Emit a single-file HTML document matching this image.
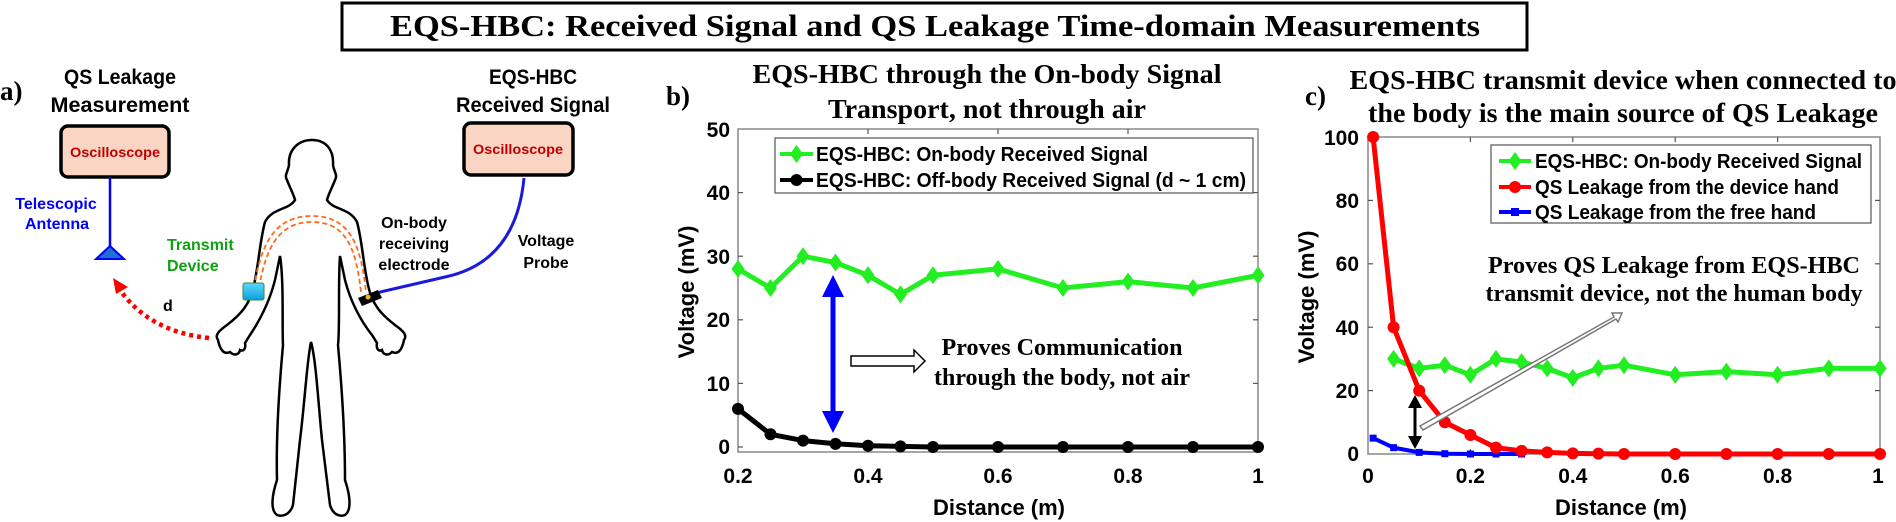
<!DOCTYPE html>
<html><head><meta charset="utf-8"><style>
html,body{margin:0;padding:0;background:#fff;}
svg{display:block;}
.ser{font-family:"Liberation Serif",serif;font-weight:bold;}
.san{font-family:"Liberation Sans",sans-serif;font-weight:bold;}
</style></head><body>
<svg id="s" width="1896" height="522" viewBox="0 0 1896 522" xmlns="http://www.w3.org/2000/svg">
<defs>
<linearGradient id="dev" x1="0" y1="0" x2="0" y2="1"><stop offset="0" stop-color="#5fd8ff"/><stop offset="1" stop-color="#0a9fd8"/></linearGradient>
</defs>
<rect x="342" y="3" width="1185" height="47" fill="#fff" stroke="#000" stroke-width="3"/>
<text class="ser" x="935" y="36" font-size="31" text-anchor="middle" textLength="1090" lengthAdjust="spacingAndGlyphs">EQS-HBC: Received Signal and QS Leakage Time-domain Measurements</text>

<text class="ser" x="0" y="100" font-size="27">a)</text>
<text class="san" x="120" y="84" font-size="21" text-anchor="middle" textLength="112" lengthAdjust="spacingAndGlyphs">QS Leakage</text>
<text class="san" x="120" y="112" font-size="21" text-anchor="middle" textLength="139" lengthAdjust="spacingAndGlyphs">Measurement</text>
<text class="san" x="533" y="84" font-size="21" text-anchor="middle" textLength="88" lengthAdjust="spacingAndGlyphs">EQS-HBC</text>
<text class="san" x="533" y="112" font-size="21" text-anchor="middle" textLength="154" lengthAdjust="spacingAndGlyphs">Received Signal</text>
<rect x="61" y="126" width="108" height="51" rx="7" fill="#fbd5c3" stroke="#000" stroke-width="3.5"/>
<text class="san" x="115" y="157" font-size="14" fill="#c00000" text-anchor="middle" textLength="90" lengthAdjust="spacingAndGlyphs">Oscilloscope</text>
<rect x="464" y="123" width="109" height="52" rx="7" fill="#fbd5c3" stroke="#000" stroke-width="3.5"/>
<text class="san" x="518" y="154" font-size="14" fill="#c00000" text-anchor="middle" textLength="90" lengthAdjust="spacingAndGlyphs">Oscilloscope</text>
<line x1="110" y1="177" x2="110" y2="247" stroke="#0000ff" stroke-width="2.5"/>
<polygon points="96,259 124,259 110,246" fill="#1f6fd0" stroke="#0000ff" stroke-width="2"/>
<text class="san" x="56" y="209" font-size="16" fill="#0000ff" text-anchor="middle">Telescopic</text>
<text class="san" x="57" y="229" font-size="16" fill="#0000ff" text-anchor="middle">Antenna</text>
<text class="san" x="167" y="250" font-size="16" fill="#10a010">Transmit</text>
<text class="san" x="167" y="271" font-size="16" fill="#10a010">Device</text>
<text class="san" x="163" y="311" font-size="16">d</text>
<path d="M209 338 Q150 332 120 290" fill="none" stroke="#ff0000" stroke-width="4.5" stroke-dasharray="4,4"/>
<polygon points="113,278 128,287 116,294" fill="#ff0000"/>
<path d="M312 140 C326 140 334 150 333 165 C334 172 338 175 335 180 C332 188 328 195 327 200 C333 210 350 208 357 222 C362 240 363 262 368 285 C372 305 382 315 395 325 C402 330 408 335 404 340 C402 350 398 355 392 352 C388 356 383 355 382 350 C378 352 376 348 377 343 L372 335 C360 320 350 300 345 280 L340 256 C338 280 340 330 338 345 C343 400 345 440 345 480 C350 495 352 510 345 515 C340 517 333 515 330 505 L322 440 C318 400 316 360 311 342 C307 360 305 400 300 440 L293 505 C290 515 282 517 277 515 C270 510 272 495 277 480 C276 440 278 400 283 345 C282 330 284 280 280 256 L275 280 C270 300 260 320 250 335 L245 343 C246 348 244 352 240 350 C239 355 234 356 230 352 C224 355 220 350 218 340 C214 335 220 330 227 325 C240 315 250 305 254 285 C259 262 260 240 265 222 C272 208 289 210 295 200 C294 195 290 188 287 180 C284 175 288 172 289 165 C288 150 298 140 312 140 Z" fill="#fff" stroke="#000" stroke-width="2.5"/>
<path d="M254 288 C261 243 275 216 312 216 C350 216 361 245 366 292" fill="none" stroke="#ff6a1a" stroke-width="1.8" stroke-dasharray="5,3"/>
<path d="M259 288 C266 247 279 222 312 222 C346 222 356 248 361 292" fill="none" stroke="#ff6a1a" stroke-width="1.8" stroke-dasharray="5,3"/>
<rect x="243" y="283" width="21" height="17" rx="2" fill="url(#dev)" stroke="#3a8a3a" stroke-width="1"/>
<path d="M524 178 Q516 262 445 277 L376 293" fill="none" stroke="#1a1ad8" stroke-width="3"/>
<polygon points="358,298 378,290 382,298 362,306" fill="#000"/>
<circle cx="368" cy="297" r="2.5" fill="#f0c000"/>
<text class="san" x="414" y="228" font-size="16" text-anchor="middle">On-body</text>
<text class="san" x="414" y="249" font-size="16" text-anchor="middle">receiving</text>
<text class="san" x="414" y="270" font-size="16" text-anchor="middle">electrode</text>
<text class="san" x="546" y="246" font-size="16" text-anchor="middle">Voltage</text>
<text class="san" x="546" y="268" font-size="16" text-anchor="middle">Probe</text>

<text class="ser" x="666" y="105" font-size="27">b)</text>
<text class="ser" x="987" y="83" font-size="27" text-anchor="middle" textLength="469" lengthAdjust="spacingAndGlyphs">EQS-HBC through the On-body Signal</text>
<text class="ser" x="987" y="118" font-size="27" text-anchor="middle" textLength="318" lengthAdjust="spacingAndGlyphs">Transport, not through air</text>
<rect x="738" y="129" width="520" height="323" fill="none" stroke="#888" stroke-width="1.5"/>
<g stroke="#555" stroke-width="1.2">
<line x1="868" y1="452" x2="868" y2="447"/><line x1="998" y1="452" x2="998" y2="447"/><line x1="1128" y1="452" x2="1128" y2="447"/>
<line x1="868" y1="129" x2="868" y2="134"/><line x1="998" y1="129" x2="998" y2="134"/><line x1="1128" y1="129" x2="1128" y2="134"/>
<line x1="738" y1="383.4" x2="743" y2="383.4"/><line x1="738" y1="319.8" x2="743" y2="319.8"/><line x1="738" y1="256.2" x2="743" y2="256.2"/><line x1="738" y1="192.6" x2="743" y2="192.6"/><line x1="738" y1="447" x2="743" y2="447"/>
<line x1="1258" y1="383.4" x2="1253" y2="383.4"/><line x1="1258" y1="319.8" x2="1253" y2="319.8"/><line x1="1258" y1="256.2" x2="1253" y2="256.2"/><line x1="1258" y1="192.6" x2="1253" y2="192.6"/>
</g>
<g class="san" font-size="21" text-anchor="end">
<text x="730" y="454">0</text><text x="730" y="391">10</text><text x="730" y="327">20</text><text x="730" y="264">30</text><text x="730" y="200">40</text><text x="730" y="137">50</text>
</g>
<g class="san" font-size="21" text-anchor="middle">
<text x="738" y="483">0.2</text><text x="868" y="483">0.4</text><text x="998" y="483">0.6</text><text x="1128" y="483">0.8</text><text x="1258" y="483">1</text>
</g>
<text class="san" x="999" y="515" font-size="22" text-anchor="middle">Distance (m)</text>
<text class="san" transform="translate(694,292) rotate(-90)" font-size="22" text-anchor="middle">Voltage (mV)</text>
<g id="bplot"></g>
<rect x="775" y="138" width="478" height="55" fill="#fff" stroke="#555" stroke-width="1.2"/>
<line x1="780" y1="154" x2="813" y2="154" stroke="#22ee22" stroke-width="4"/>
<polygon points="796.5,145 803,154 796.5,163 790,154" fill="#22ee22"/>
<line x1="780" y1="180" x2="813" y2="180" stroke="#000" stroke-width="4"/>
<circle cx="796.5" cy="180" r="6" fill="#000"/>
<text class="san" x="816" y="161" font-size="20" textLength="332" lengthAdjust="spacingAndGlyphs">EQS-HBC: On-body Received Signal</text>
<text class="san" x="816" y="187" font-size="20" textLength="430" lengthAdjust="spacingAndGlyphs">EQS-HBC: Off-body Received Signal (d ~ 1 cm)</text>
<line x1="833" y1="290" x2="833" y2="418" stroke="#0000ff" stroke-width="5"/>
<polygon points="833,275 822,297 844,297" fill="#0000ff"/>
<polygon points="833,433 822,411 844,411" fill="#0000ff"/>
<polygon points="851,356 914,356 914,350 925,361 914,372 914,366 851,366" fill="#fff" stroke="#000" stroke-width="1.5"/>
<text class="ser" x="1062" y="355" font-size="24" text-anchor="middle" textLength="241" lengthAdjust="spacingAndGlyphs">Proves Communication</text>
<text class="ser" x="1062" y="385" font-size="24" text-anchor="middle" textLength="256" lengthAdjust="spacingAndGlyphs">through the body, not air</text>

<text class="ser" x="1305" y="105" font-size="27">c)</text>
<text class="ser" x="1623" y="89" font-size="27" text-anchor="middle" textLength="547" lengthAdjust="spacingAndGlyphs">EQS-HBC transmit device when connected to</text>
<text class="ser" x="1623" y="122" font-size="27" text-anchor="middle" textLength="510" lengthAdjust="spacingAndGlyphs">the body is the main source of QS Leakage</text>
<rect x="1368" y="137" width="512" height="317" fill="none" stroke="#888" stroke-width="1.5"/>
<g stroke="#555" stroke-width="1.2">
<line x1="1470.4" y1="454" x2="1470.4" y2="449"/><line x1="1572.8" y1="454" x2="1572.8" y2="449"/><line x1="1675.2" y1="454" x2="1675.2" y2="449"/><line x1="1777.6" y1="454" x2="1777.6" y2="449"/>
<line x1="1470.4" y1="137" x2="1470.4" y2="142"/><line x1="1572.8" y1="137" x2="1572.8" y2="142"/><line x1="1675.2" y1="137" x2="1675.2" y2="142"/><line x1="1777.6" y1="137" x2="1777.6" y2="142"/>
<line x1="1368" y1="390.6" x2="1373" y2="390.6"/><line x1="1368" y1="327.2" x2="1373" y2="327.2"/><line x1="1368" y1="263.8" x2="1373" y2="263.8"/><line x1="1368" y1="200.4" x2="1373" y2="200.4"/>
<line x1="1880" y1="390.6" x2="1875" y2="390.6"/><line x1="1880" y1="327.2" x2="1875" y2="327.2"/><line x1="1880" y1="263.8" x2="1875" y2="263.8"/><line x1="1880" y1="200.4" x2="1875" y2="200.4"/>
</g>
<g class="san" font-size="21" text-anchor="end">
<text x="1359" y="461">0</text><text x="1359" y="398">20</text><text x="1359" y="335">40</text><text x="1359" y="271">60</text><text x="1359" y="208">80</text><text x="1359" y="145">100</text>
</g>
<g class="san" font-size="21" text-anchor="middle">
<text x="1368" y="483">0</text><text x="1470.4" y="483">0.2</text><text x="1572.8" y="483">0.4</text><text x="1675.2" y="483">0.6</text><text x="1777.6" y="483">0.8</text><text x="1878" y="483">1</text>
</g>
<text class="san" x="1621" y="515" font-size="22" text-anchor="middle">Distance (m)</text>
<text class="san" transform="translate(1314,297) rotate(-90)" font-size="22" text-anchor="middle">Voltage (mV)</text>
<g id="cplot"></g>
<rect x="1491" y="145" width="380" height="78" fill="#fff" stroke="#555" stroke-width="1.2"/>
<line x1="1499" y1="161" x2="1531" y2="161" stroke="#22ee22" stroke-width="4"/>
<polygon points="1515,152 1521.5,161 1515,170 1508.5,161" fill="#22ee22"/>
<line x1="1499" y1="187" x2="1531" y2="187" stroke="#ff0000" stroke-width="4"/>
<circle cx="1515" cy="187" r="6" fill="#ff0000"/>
<line x1="1499" y1="212" x2="1531" y2="212" stroke="#0000ff" stroke-width="4"/>
<rect x="1511" y="208" width="8" height="8" fill="#0000ff"/>
<text class="san" x="1535" y="168" font-size="20" textLength="327" lengthAdjust="spacingAndGlyphs">EQS-HBC: On-body Received Signal</text>
<text class="san" x="1535" y="194" font-size="20" textLength="304" lengthAdjust="spacingAndGlyphs">QS Leakage from the device hand</text>
<text class="san" x="1535" y="219" font-size="20" textLength="281" lengthAdjust="spacingAndGlyphs">QS Leakage from the free hand</text>
<text class="ser" x="1674" y="273" font-size="24" text-anchor="middle" textLength="372" lengthAdjust="spacingAndGlyphs">Proves QS Leakage from EQS-HBC</text>
<text class="ser" x="1674" y="301" font-size="24" text-anchor="middle" textLength="377" lengthAdjust="spacingAndGlyphs">transmit device, not the human body</text>
<g id="cover"></g>
</svg>
<script>
var NS="http://www.w3.org/2000/svg";
function el(p,t,a){var e=document.createElementNS(NS,t);for(var k in a)e.setAttribute(k,a[k]);p.appendChild(e);return e;}
function series(g,xs,ys,X,Y,col,mk,w){
 var pts=xs.map(function(x,i){return X(x).toFixed(1)+","+Y(ys[i]).toFixed(1);}).join(" ");
 el(g,"polyline",{points:pts,fill:"none",stroke:col,"stroke-width":w,"stroke-linejoin":"round"});
 xs.forEach(function(x,i){var cx=X(x),cy=Y(ys[i]);
  if(mk=="d")el(g,"polygon",{points:cx+","+(cy-9)+" "+(cx+6.5)+","+cy+" "+cx+","+(cy+9)+" "+(cx-6.5)+","+cy,fill:col});
  else if(mk=="o")el(g,"circle",{cx:cx,cy:cy,r:6,fill:col});
  else el(g,"rect",{x:cx-3.5,y:cy-3.5,width:7,height:7,fill:col});
 });
}
var bX=function(v){return 738+(v-0.2)*650;},bY=function(v){return 447-v*6.36;};
var bg=document.getElementById("bplot");
var bx=[0.2,0.25,0.3,0.35,0.4,0.45,0.5,0.6,0.7,0.8,0.9,1];
series(bg,bx,[28,25,30,29,27,24,27,28,25,26,25,27],bX,bY,"#22ee22","d",5);
series(bg,bx,[6,2,1,0.5,0.2,0.1,0,0,0,0,0,0],bX,bY,"#000","o",5);
var cX=function(v){return 1368+v*512;},cY=function(v){return 454-v*3.17;};
var cg=document.getElementById("cplot");
series(cg,[0.05,0.1,0.15,0.2,0.25,0.3,0.35,0.4,0.45,0.5,0.6,0.7,0.8,0.9,1],[30,27,28,25,30,29,27,24,27,28,25,26,25,27,27],cX,cY,"#22ee22","d",5);
series(cg,[0.01,0.05,0.1,0.15,0.2,0.25,0.3],[5,2,0.5,0.1,0,0,0],cX,cY,"#0000ff","s",4);
series(cg,[0.01,0.05,0.1,0.15,0.2,0.25,0.3,0.35,0.4,0.45,0.5,0.6,0.7,0.8,0.9,1],[100,40,20,10,6,2,1,0.5,0.2,0.1,0,0,0,0,0,0],cX,cY,"#ff0000","o",5);
var cv=document.getElementById("cover");
el(cv,"polygon",{points:"1420,426 1614,317 1612,313 1622,313 1618,322 1616,319 1423,430",fill:"#fff",stroke:"#777","stroke-width":1.5});
el(cv,"line",{x1:1415,y1:404,x2:1415,y2:440,stroke:"#000","stroke-width":3});
el(cv,"polygon",{points:"1415,395 1408,408 1422,408",fill:"#000"});
el(cv,"polygon",{points:"1415,449 1408,436 1422,436",fill:"#000"});
</script>
</body></html>
